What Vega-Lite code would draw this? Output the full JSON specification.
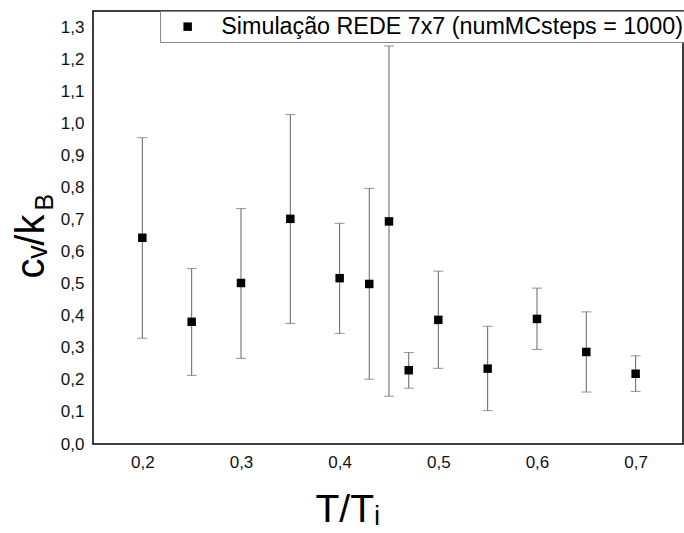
{
  "$schema": "https://vega.github.io/schema/vega-lite/v6.json",
  "autosize": "none",
  "padding": {"left": 93, "top": 11, "right": 1, "bottom": 89},
  "width": 590,
  "height": 433,
  "background": "white",
  "config": {
    "view": {"stroke": "#000", "strokeWidth": 1.5},
    "font": "Liberation Sans",
    "axis": {"grid": false, "ticks": false, "domain": false, "labelFont": "Liberation Sans", "labelFontSize": 17, "labelColor": "#111", "titleFont": "Liberation Sans", "titleColor": "#000", "titleFontWeight": "normal"}
  },
  "data": {"values": [
    {"x": 0.2, "y": 0.643, "lo": 0.330, "hi": 0.955, "series": "Simulação REDE 7x7 (numMCsteps = 1000)"},
    {"x": 0.25, "y": 0.381, "lo": 0.214, "hi": 0.547, "series": "Simulação REDE 7x7 (numMCsteps = 1000)"},
    {"x": 0.3, "y": 0.502, "lo": 0.267, "hi": 0.734, "series": "Simulação REDE 7x7 (numMCsteps = 1000)"},
    {"x": 0.35, "y": 0.702, "lo": 0.376, "hi": 1.027, "series": "Simulação REDE 7x7 (numMCsteps = 1000)"},
    {"x": 0.4, "y": 0.517, "lo": 0.345, "hi": 0.688, "series": "Simulação REDE 7x7 (numMCsteps = 1000)"},
    {"x": 0.43, "y": 0.499, "lo": 0.202, "hi": 0.797, "series": "Simulação REDE 7x7 (numMCsteps = 1000)"},
    {"x": 0.45, "y": 0.694, "lo": 0.149, "hi": 1.241, "series": "Simulação REDE 7x7 (numMCsteps = 1000)"},
    {"x": 0.47, "y": 0.230, "lo": 0.174, "hi": 0.285, "series": "Simulação REDE 7x7 (numMCsteps = 1000)"},
    {"x": 0.5, "y": 0.387, "lo": 0.236, "hi": 0.539, "series": "Simulação REDE 7x7 (numMCsteps = 1000)"},
    {"x": 0.55, "y": 0.235, "lo": 0.104, "hi": 0.367, "series": "Simulação REDE 7x7 (numMCsteps = 1000)"},
    {"x": 0.6, "y": 0.390, "lo": 0.295, "hi": 0.486, "series": "Simulação REDE 7x7 (numMCsteps = 1000)"},
    {"x": 0.65, "y": 0.287, "lo": 0.162, "hi": 0.412, "series": "Simulação REDE 7x7 (numMCsteps = 1000)"},
    {"x": 0.7, "y": 0.219, "lo": 0.164, "hi": 0.275, "series": "Simulação REDE 7x7 (numMCsteps = 1000)"}
  ]},
  "resolve": {"axis": {"y": "independent"}},
  "layer": [
    {
      "mark": {"type": "rule", "color": "#666666", "strokeWidth": 1},
      "encoding": {
        "x": {"field": "x", "type": "quantitative", "scale": {"domain": [0.15, 0.748], "nice": false, "zero": false}},
        "y": {"field": "lo", "type": "quantitative", "scale": {"domain": [0, 1.35], "nice": false},
              "axis": {"orient": "left", "labels": false, "title": "B", "titleFontSize": 25, "titleAngle": 270, "titleAlign": "left", "titleBaseline": "alphabetic", "titleX": -41, "titleY": 199}},
        "y2": {"field": "hi"}
      }
    },
    {
      "mark": {"type": "tick", "color": "#666666", "thickness": 1, "size": 10, "orient": "horizontal"},
      "encoding": {
        "x": {"field": "x", "type": "quantitative"},
        "y": {"field": "lo", "type": "quantitative", "axis": null}
      }
    },
    {
      "mark": {"type": "tick", "color": "#666666", "thickness": 1, "size": 10, "orient": "horizontal"},
      "encoding": {
        "x": {"field": "x", "type": "quantitative"},
        "y": {"field": "hi", "type": "quantitative", "axis": null}
      }
    },
    {
      "mark": {"type": "point", "shape": "square", "filled": true, "size": 72, "opacity": 1},
      "encoding": {
        "x": {"field": "x", "type": "quantitative",
              "axis": {"values": [0.2, 0.3, 0.4, 0.5, 0.6, 0.7], "labelExpr": "replace(format(datum.value, '.1f'), '.', ',')", "labelPadding": 10,
                       "title": "T/Tᵢ", "titleFontSize": 39, "titleAlign": "left", "titleBaseline": "alphabetic", "titleX": 222, "titleY": 77}},
        "y": {"field": "y", "type": "quantitative",
              "axis": {"orient": "left", "values": [0, 0.1, 0.2, 0.3, 0.4, 0.5, 0.6, 0.7, 0.8, 0.9, 1.0, 1.1, 1.2, 1.3], "labelExpr": "replace(format(datum.value, '.1f'), '.', ',')", "labelPadding": 9,
                       "title": "cᵥ/k", "titleFontSize": 40, "titleAngle": 270, "titleAlign": "left", "titleBaseline": "alphabetic", "titleX": -50, "titleY": 267}},
        "color": {"field": "series", "type": "nominal", "scale": {"range": ["#000000"]},
                  "legend": {"title": null, "orient": "none", "legendX": 67, "legendY": 0, "strokeColor": "#888", "fillColor": "white", "padding": 4,
                             "labelFontSize": 23.3, "labelFont": "Liberation Sans", "labelColor": "#000", "labelLimit": 800, "labelOffset": 22,
                             "symbolType": "square", "symbolSize": 72, "symbolFillColor": "#000", "symbolStrokeWidth": 0, "symbolOffset": 12}}
      }
    }
  ]
}
